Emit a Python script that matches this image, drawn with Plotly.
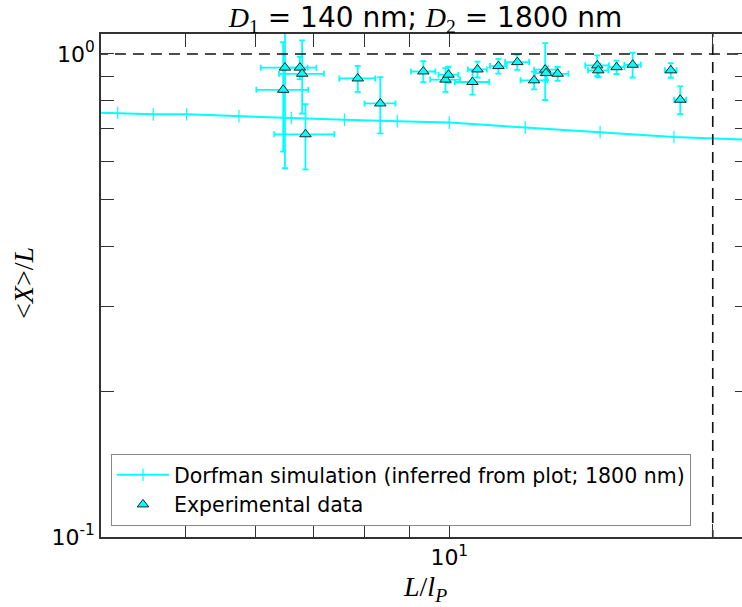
import math
import plotly.graph_objects as go

# ---- Data ----
sim_x = [3.82, 4.18, 4.59, 5.01, 5.75, 6.60, 7.59, 8.72, 10.0, 12.21, 14.87, 18.06, 22.06]
sim_y = [0.758, 0.755, 0.750, 0.750, 0.743, 0.737, 0.731, 0.726, 0.721, 0.704, 0.689, 0.673, 0.664]

exp_x = [6.46, 6.49, 6.75, 6.79, 6.85, 7.86, 8.34, 9.34, 9.90, 9.98, 10.63, 10.77,
         11.38, 11.96, 12.50, 12.87, 12.90, 13.30, 14.76, 14.80, 15.53, 16.20, 17.91, 18.36]
exp_xerr = [0.44, 0.40, 0.30, 0.40, 0.54, 0.37, 0.34, 0.30, 0.39, 0.26, 0.48, 0.27,
            0.25, 0.38, 0.44, 0.37, 0.37, 0.38, 0.46, 0.40, 0.33, 0.35, 0.28, 0.29]
exp_y = [0.843, 0.937, 0.937, 0.910, 0.682, 0.890, 0.790, 0.920, 0.885, 0.906, 0.875, 0.929,
         0.944, 0.962, 0.882, 0.928, 0.913, 0.910, 0.947, 0.925, 0.939, 0.950, 0.925, 0.804]
exp_yerr = [0.215, 0.357, 0.05, 0.157, 0.105, 0.055, 0.105, 0.046, 0.05, 0.035, 0.051, 0.035,
            0.033, 0.035, 0.037, 0.125, 0.03, 0.03, 0.046, 0.03, 0.03, 0.056, 0.032, 0.053]

ref_y = 1.0          # horizontal dashed reference
ref_x = 20.0         # vertical dashed reference
x_lim = [4.0, 21.6]
y_lim = [0.1, 1.1]

x_major = [10]
x_major_text = ["10<sup>1</sup>"]
x_minor = [4, 5, 6, 7, 8, 9, 20]
y_major = [0.1, 1.0]
y_major_text = ["10<sup>-1</sup>", "10<sup>0</sup>"]
y_minor = [0.2, 0.3, 0.4, 0.5, 0.6, 0.7, 0.8, 0.9]

CYAN = "#00FFFF"
AXC = "#333333"
SANS = "DejaVu Sans"
SERIF = "Liberation Serif"

fig = go.Figure()

fig.add_trace(go.Scatter(
    x=sim_x, y=sim_y, mode="lines+markers",
    name="Dorfman simulation (inferred from plot; 1800 nm)",
    line=dict(color=CYAN, width=2),
    marker=dict(symbol="line-ns", size=9, color=CYAN, line=dict(color=CYAN, width=1.2)),
))

fig.add_trace(go.Scatter(
    x=exp_x, y=exp_y, mode="markers", name="Experimental data",
    marker=dict(symbol="triangle-up", size=10, color=CYAN, line=dict(color="#222222", width=1)),
    error_x=dict(type="data", array=exp_xerr, color=CYAN, thickness=1.8, width=3),
    error_y=dict(type="data", array=exp_yerr, color=CYAN, thickness=1.8, width=3),
))

# dashed reference lines
fig.add_trace(go.Scatter(x=[x_lim[0] * 0.9, x_lim[1] * 1.1], y=[ref_y, ref_y], mode="lines",
                         line=dict(color="#111111", width=1.6, dash="11px,7px"),
                         showlegend=False, hoverinfo="skip", yaxis="y2"))
fig.add_trace(go.Scatter(x=[ref_x, ref_x], y=[y_lim[0] * 0.9, y_lim[1] * 1.1], mode="lines",
                         line=dict(color="#111111", width=1.6, dash="11px,7px"),
                         showlegend=False, hoverinfo="skip"))

title_html = ("<span style='font-family:Liberation Serif;font-style:italic'>D</span>"
              "<sub><span style='font-family:Liberation Serif'>1</span></sub> = 140 nm; "
              "<span style='font-family:Liberation Serif;font-style:italic'>D</span>"
              "<sub><span style='font-family:Liberation Serif'>2</span></sub> = 1800 nm")

tick_common = dict(ticks="inside", ticklen=13, tickwidth=1, tickcolor=AXC)
minor_common = dict(ticks="inside", ticklen=13, tickwidth=1, tickcolor=AXC, showgrid=False)

fig.update_layout(
    width=742, height=607,
    margin=dict(l=101, r=0, t=34, b=70),
    paper_bgcolor="white", plot_bgcolor="white",
    title=dict(text=title_html, font=dict(family=SANS, size=28, color="black"),
               xref="container", x=0.5735, xanchor="center",
               yref="container", y=1 - 17 / 607, yanchor="middle"),
    xaxis=dict(type="log", range=[math.log10(x_lim[0]), math.log10(x_lim[1])],
               tickmode="array", tickvals=x_major, ticktext=x_major_text,
               minor=dict(tickmode="array", tickvals=x_minor, **minor_common),
               showline=True, linecolor=AXC, linewidth=1.5, mirror="ticks",
               showgrid=False, zeroline=False,
               tickfont=dict(family=SANS, size=22, color="black"), **tick_common),
    yaxis=dict(type="log", range=[math.log10(y_lim[0]), math.log10(y_lim[1])],
               tickmode="array", tickvals=y_major, ticktext=y_major_text,
               minor=dict(tickmode="array", tickvals=y_minor, **minor_common),
               showline=True, linecolor=AXC, linewidth=1.5, mirror=False,
               showgrid=False, zeroline=False,
               tickfont=dict(family=SANS, size=22, color="black"), **tick_common),
    yaxis2=dict(type="log", range=[math.log10(y_lim[0]), math.log10(y_lim[1])],
                overlaying="y", side="right", tickmode="array", tickvals=[],
                minor=dict(tickmode="array", tickvals=y_major + y_minor, ticks="inside",
                           ticklen=7, tickwidth=1, tickcolor=AXC, showgrid=False),
                showticklabels=False, ticks="",
                showline=False, showgrid=False, zeroline=False),
    legend=dict(x=0.0156, y=0.022, xanchor="left", yanchor="bottom",
                bgcolor="white", bordercolor="#888888", borderwidth=1,
                font=dict(family=SANS, size=20.5, color="black"),
                itemwidth=52, tracegroupgap=0),
    showlegend=True,
    annotations=[
        dict(text="<i>L</i>/<i>l</i><sub><i>P</i></sub>", xref="paper", yref="paper",
             x=(425 - 101) / 641, y=(537 - 588) / 503, xanchor="center", yanchor="middle",
             showarrow=False, font=dict(family=SERIF, size=28, color="black")),
        dict(text="&lt;<i>X</i>&gt;/<i>L</i>", xref="paper", yref="paper",
             x=(23 - 101) / 641, y=(537 - 283) / 503, xanchor="center", yanchor="middle",
             textangle=-90, showarrow=False, font=dict(family=SERIF, size=28, color="black")),
    ],
)

fig.write_html("out.html")
